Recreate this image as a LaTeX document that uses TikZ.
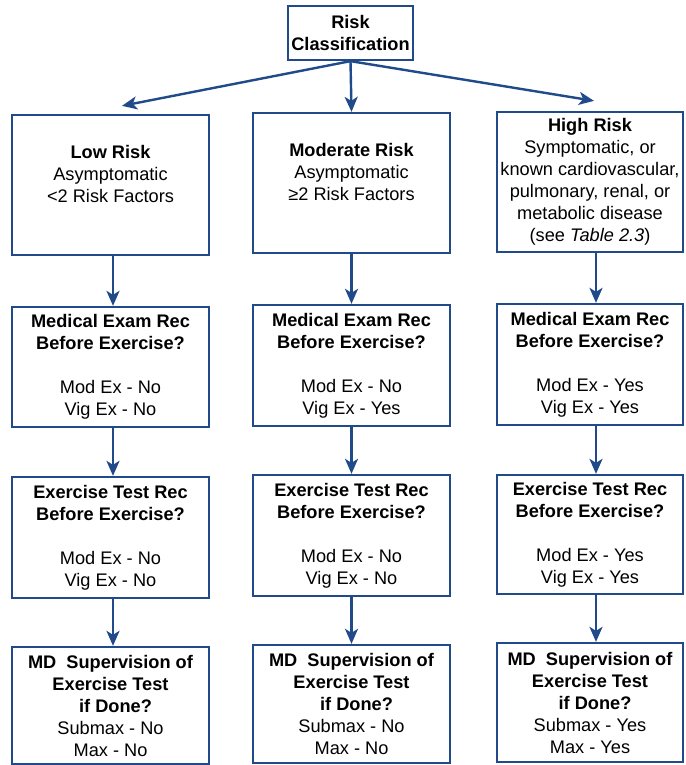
\documentclass[tikz,border=0pt]{standalone}
\usepackage{fontspec}
\setmainfont{Liberation Sans}
\usetikzlibrary{arrows.meta}
\definecolor{flowblue}{RGB}{32,74,138}
\begin{document}
\begin{tikzpicture}[x=1pt,y=-1pt,
  box/.style={draw=flowblue, line width=2.3pt, fill=white, align=center, inner sep=0pt,
    font=\fontsize{18.2}{22}\selectfont, text=black},
  arr/.style={draw=flowblue, line width=2.4pt,
    -{Stealth[length=15pt,width=13pt,inset=4pt]}}]
\useasboundingbox (0,0) rectangle (685,765);
\fill[white] (0,0) rectangle (685,765);

% top
\node[box, minimum width=125, minimum height=54] (risk) at (350.5,33)
  {\textbf{Risk}\\\textbf{Classification}};

% row 1
\node[box, minimum width=197, minimum height=140] (low) at (110.5,185)
  {\textbf{Low Risk}\\Asymptomatic\\<2 Risk Factors\\\phantom{X}};
\node[box, minimum width=197, minimum height=140] (mod) at (351.5,183)
  {\textbf{Moderate Risk}\\Asymptomatic\\≥2 Risk Factors\\\phantom{X}};
\node[box, minimum width=186, minimum height=140] (high) at (590,182)
  {\textbf{High Risk}\\Symptomatic, or\\known cardiovascular,\\pulmonary, renal, or\\metabolic disease\\(see \textit{Table 2.3})};

% row 2
\node[box, minimum width=197, minimum height=120] (medlow) at (110.5,367)
  {\textbf{Medical Exam Rec}\\\textbf{Before Exercise?}\\\phantom{X}\\Mod Ex - No\\Vig Ex - No};
\node[box, minimum width=197, minimum height=121] (medmod) at (351.5,365.5)
  {\textbf{Medical Exam Rec}\\\textbf{Before Exercise?}\\\phantom{X}\\Mod Ex - No\\Vig Ex - Yes};
\node[box, minimum width=186, minimum height=121] (medhigh) at (590,364.5)
  {\textbf{Medical Exam Rec}\\\textbf{Before Exercise?}\\\phantom{X}\\Mod Ex - Yes\\Vig Ex - Yes};

% row 3
\node[box, minimum width=197, minimum height=121] (exlow) at (110.5,537.5)
  {\textbf{Exercise Test Rec}\\\textbf{Before Exercise?}\\\phantom{X}\\Mod Ex - No\\Vig Ex - No};
\node[box, minimum width=197, minimum height=121] (exmod) at (351.5,535.5)
  {\textbf{Exercise Test Rec}\\\textbf{Before Exercise?}\\\phantom{X}\\Mod Ex - No\\Vig Ex - No};
\node[box, minimum width=186, minimum height=119] (exhigh) at (590,534.5)
  {\textbf{Exercise Test Rec}\\\textbf{Before Exercise?}\\\phantom{X}\\Mod Ex - Yes\\Vig Ex - Yes};

% row 4
\node[box, minimum width=197, minimum height=117] (mdlow) at (110.5,705.5)
  {\textbf{MD\ \ Supervision of}\\\textbf{Exercise Test}\hspace*{8pt}\\\hspace*{10pt}\textbf{if Done?}\\Submax - No\\Max - No};
\node[box, minimum width=197, minimum height=118] (mdmod) at (351.5,704)
  {\textbf{MD\ \ Supervision of}\\\textbf{Exercise Test}\hspace*{8pt}\\\hspace*{10pt}\textbf{if Done?}\\Submax - No\\Max - No};
\node[box, minimum width=186, minimum height=119] (mdhigh) at (590,702.5)
  {\textbf{MD\ \ Supervision of}\\\textbf{Exercise Test}\hspace*{8pt}\\\hspace*{10pt}\textbf{if Done?}\\Submax - Yes\\Max - Yes};

% arrows from top
\draw[arr] (risk.south) -- ([xshift=11.5pt,yshift=8pt]low.north);
\draw[arr] (risk.south) -- (mod.north);
\draw[arr] (risk.south) -- ([xshift=4pt,yshift=10pt]high.north);

% vertical arrows
\draw[arr] ([xshift=2.5pt]low.south) -- ([xshift=2.5pt]medlow.north);
\draw[arr] (mod.south) -- (medmod.north);
\draw[arr] ([xshift=6pt]high.south) -- ([xshift=6pt]medhigh.north);

\draw[arr] ([xshift=2.5pt]medlow.south) -- ([xshift=2.5pt]exlow.north);
\draw[arr] (medmod.south) -- (exmod.north);
\draw[arr] ([xshift=6pt]medhigh.south) -- ([xshift=6pt]exhigh.north);

\draw[arr] ([xshift=2.5pt]exlow.south) -- ([xshift=2.5pt]mdlow.north);
\draw[arr] (exmod.south) -- (mdmod.north);
\draw[arr] ([xshift=6pt]exhigh.south) -- ([xshift=6pt]mdhigh.north);
\end{tikzpicture}
\end{document}
